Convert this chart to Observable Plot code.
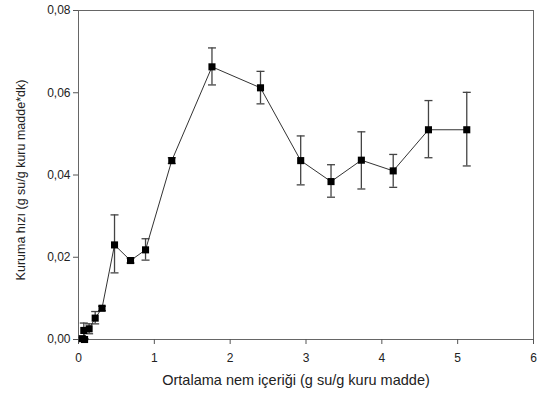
<!DOCTYPE html>
<html>
<head>
<meta charset="utf-8">
<script src="https://cdn.jsdelivr.net/npm/d3@7"></script>
<script src="https://cdn.jsdelivr.net/npm/@observablehq/plot@0.6"></script>
<style>
  html, body { margin: 0; padding: 0; background: #fff; }
  #chart { width: 538px; height: 397px; }
</style>
</head>
<body>
<div id="chart"></div>
<script>
// Moisture content (g water / g dry matter)
const moisture = [0.05, 0.08, 0.07, 0.14, 0.22, 0.31, 0.475, 0.686, 0.884, 1.23, 1.76, 2.40, 2.93, 3.33, 3.73, 4.15, 4.615, 5.12];
// Drying rate (g water / g dry matter * min)
const rate     = [0.0002, 0.0000, 0.0022, 0.0026, 0.0052, 0.0076, 0.0230, 0.0192, 0.0218, 0.0435, 0.0663, 0.0612, 0.0435, 0.0384, 0.0436, 0.0410, 0.0510, 0.0510];
const rateLow  = [0.0000, 0.0000, 0.0005, 0.0014, 0.0038, 0.0070, 0.0162, 0.0186, 0.0193, 0.0428, 0.0619, 0.0573, 0.0376, 0.0346, 0.0366, 0.0370, 0.0442, 0.0422];
const rateHigh = [0.0005, 0.0002, 0.0040, 0.0038, 0.0068, 0.0081, 0.0303, 0.0198, 0.0245, 0.0442, 0.0709, 0.0652, 0.0495, 0.0425, 0.0505, 0.0450, 0.0581, 0.0601];
const xTicks = [0, 1, 2, 3, 4, 5, 6];
const yTicks = [0, 0.02, 0.04, 0.06, 0.08];

const data = moisture.map((x, i) => ({x, y: rate[i], lo: rateLow[i], hi: rateHigh[i]}));
const capSymbol = {
  draw(ctx, size) {
    const w = Math.sqrt(size / Math.PI);
    ctx.moveTo(-w, 0);
    ctx.lineTo(w, 0);
  }
};
const caps = data.flatMap(d => [{x: d.x, y: d.lo}, {x: d.x, y: d.hi}]);

const fmtY = d => d.toFixed(2).replace(".", ",");
const fmtX = d => String(d);

const chart = Plot.plot({
  width: 538,
  height: 397,
  marginLeft: 78,
  marginRight: 5,
  marginTop: 10,
  marginBottom: 58,
  style: {fontFamily: "'Liberation Sans', Arial, sans-serif", fontSize: "12px", color: "#222", background: "#fff"},
  x: {domain: [0, 6]},
  y: {domain: [0, 0.08]},
  marks: [
    Plot.frame({stroke: "#666", strokeWidth: 1}),
    Plot.axisX({ticks: xTicks, tickFormat: fmtX, tickSize: 5, tickPadding: 9, stroke: "#555", fontSize: 12,
      label: "Ortalama nem içeriği (g su/g kuru madde)", labelAnchor: "center", labelArrow: "none", labelOffset: 45}),
    Plot.axisY({ticks: yTicks, tickFormat: fmtY, tickSize: 5, tickPadding: 3, stroke: "#555", fontSize: 12,
      label: "Kuruma hızı (g su/g kuru madde*dk)", labelAnchor: "center", labelArrow: "none", labelOffset: 62}),
    Plot.ruleX(data, {x: "x", y1: "lo", y2: "hi", stroke: "#444", strokeWidth: 1.3}),
    Plot.dot(caps, {x: "x", y: "y", symbol: capSymbol, r: 4, stroke: "#444", fill: "none", strokeWidth: 1.3}),
    Plot.line(data, {x: "x", y: "y", stroke: "#333", strokeWidth: 1}),
    Plot.dot(data, {x: "x", y: "y", symbol: "square", r: 4, fill: "#000", stroke: "none"})
  ]
});
chart.querySelectorAll("g[aria-label='x-axis label'] text").forEach(t => { t.style.fontSize = "14.5px"; t.setAttribute("dx", "-10"); });
chart.querySelectorAll("g[aria-label='y-axis label'] text").forEach(t => { t.style.fontSize = "12.5px"; t.setAttribute("dx", "-5"); });
document.getElementById("chart").appendChild(chart);
</script>
</body>
</html>
